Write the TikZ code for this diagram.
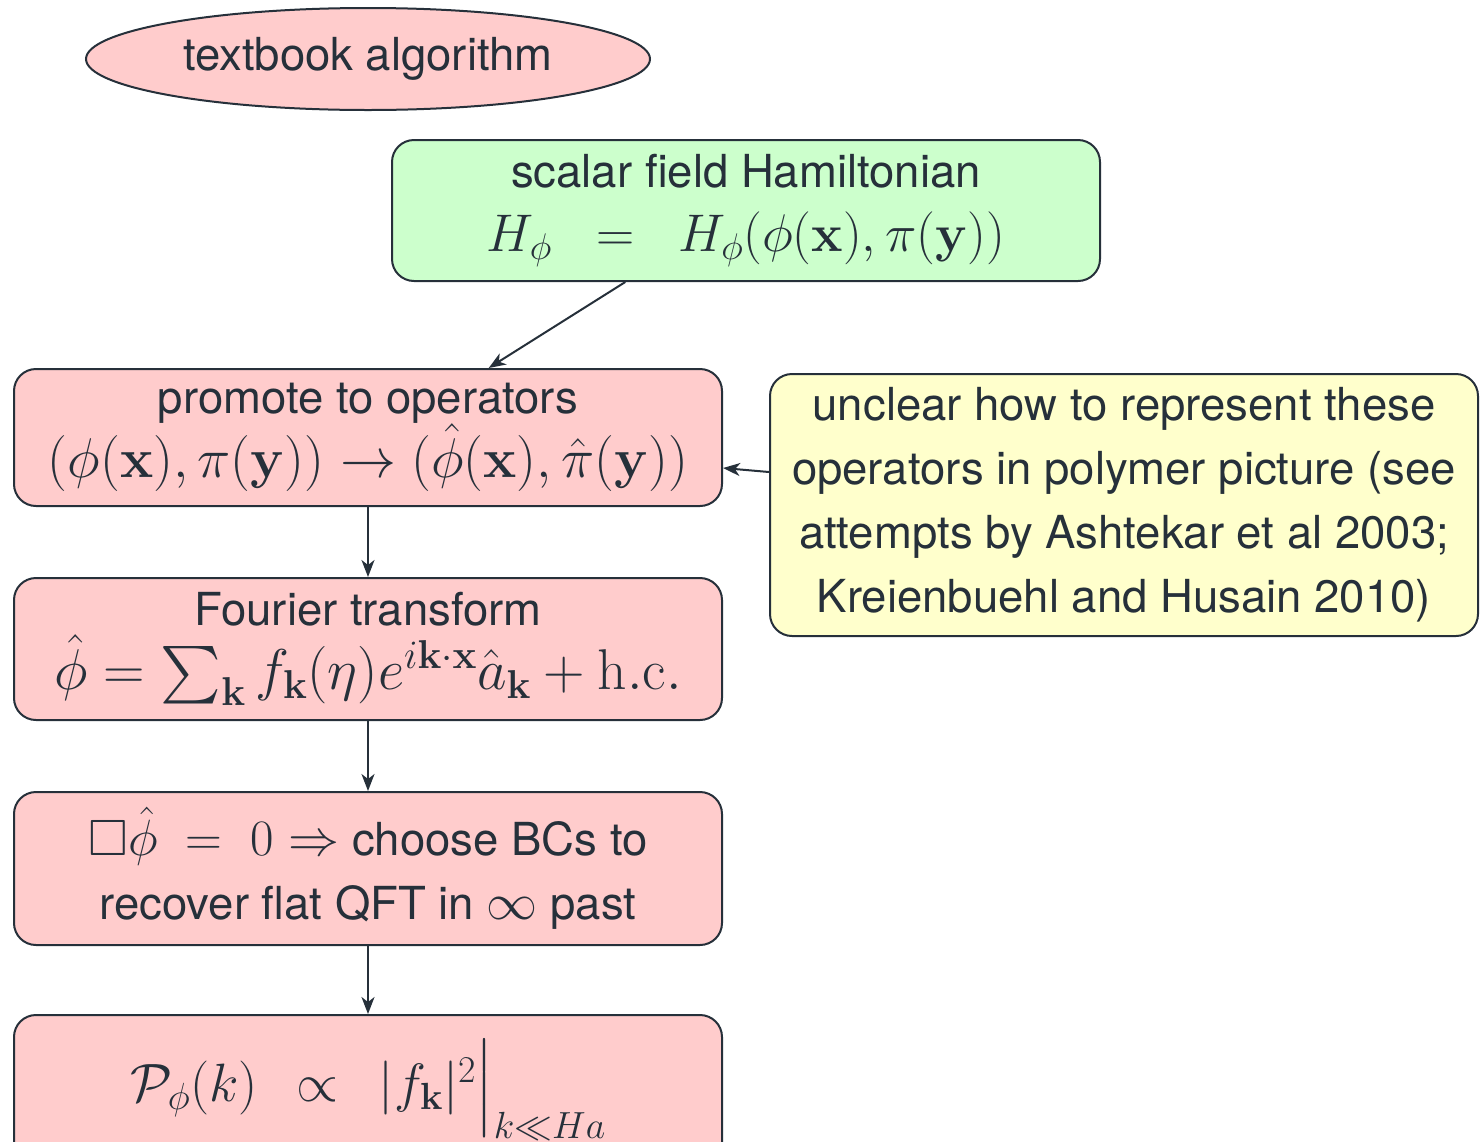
\RequirePackage{fix-cm}
\documentclass[tikz,border=0pt]{standalone}
\usepackage{amsmath,amssymb}
\usepackage[no-math]{fontspec}
\setmainfont{TeX Gyre Heros}
\usetikzlibrary{shapes.geometric,arrows.meta,calc}
\definecolor{ink}{RGB}{38,48,58}
\definecolor{pinkfill}{RGB}{255,204,204}
\definecolor{greenfill}{RGB}{204,255,204}
\definecolor{yellowfill}{RGB}{255,255,204}
\newcommand\mth[2]{{\fontsize{#1}{64}\selectfont$#2$}}
\begin{document}
\begin{tikzpicture}[x=1pt,y=-1pt,
  every node/.style={font=\fontsize{45.5}{64}\selectfont, text=ink},
  box/.style={draw=ink, line width=2pt, rounded corners=22pt, align=center, inner sep=0pt},
  pinkbox/.style={box, fill=pinkfill, minimum width=708pt},
  arr/.style={draw=ink, line width=2pt, -{Stealth[length=17pt,width=13pt,inset=5pt]}}]
\useasboundingbox (0,0) rectangle (1480,1141);

\node[ellipse, draw=ink, line width=2pt, fill=pinkfill, minimum width=564pt, minimum height=102pt, inner sep=0pt] (title) at (368,59) {textbook algorithm};

\node[box, fill=greenfill, minimum width=708pt, minimum height=141pt] (ham) at (746,210.5)
  {scalar field Hamiltonian\\ \mth{53}{H_\phi\;\;=\;\;H_\phi(\phi(\mathbf{x}),\pi(\mathbf{y}))}};

\node[pinkbox, minimum height=137pt] (prom) at (368,437.5)
  {promote to operators\\ \mth{56}{(\phi(\mathbf{x}),\pi(\mathbf{y}))\rightarrow(\hat\phi(\mathbf{x}),\hat\pi(\mathbf{y}))}};

\node[box, fill=yellowfill, minimum width=708pt, minimum height=262pt] (note) at (1124,505)
  {unclear how to represent these\\ operators in polymer picture (see\\ attempts by Ashtekar et al 2003;\\ Kreienbuehl and Husain 2010)};

\node[pinkbox, minimum height=142pt] (four) at (368,649)
  {Fourier transform\\ \mth{57.5}{\hat\phi=\sum_{\mathbf{k}} f_{\mathbf{k}}(\eta)e^{i\mathbf{k}\cdot\mathbf{x}}\hat a_{\mathbf{k}}+\mathrm{h.c.}}};

\node[pinkbox, minimum height=153pt] (bcs) at (368,868.5)
  {\mth{51}{\Box\hat\phi\;=\;0\Rightarrow} choose BCs to\\ recover flat QFT in \mth{51}{\infty} past};

\node[pinkbox, minimum height=150pt] (spec) at (368,1090)
  {\raisebox{26pt}{\mth{54}{\mathcal{P}_\phi(k)\;\,\propto\;\,\left.|f_{\mathbf{k}}|^2\rule[-22pt]{0pt}{71pt}\right|_{k\ll Ha}}}};

\draw[arr] ($(ham.south west)!0.33!(ham.south east)$) -- ($(prom.north west)!0.67!(prom.north east)$);
\draw[arr] ($(note.west)+(0,-33)$) -- ($(prom.east)+(0,30.5)$);
\draw[arr] (prom.south) -- (four.north);
\draw[arr] (four.south) -- (bcs.north);
\draw[arr] (bcs.south) -- (spec.north);
\end{tikzpicture}
\end{document}
